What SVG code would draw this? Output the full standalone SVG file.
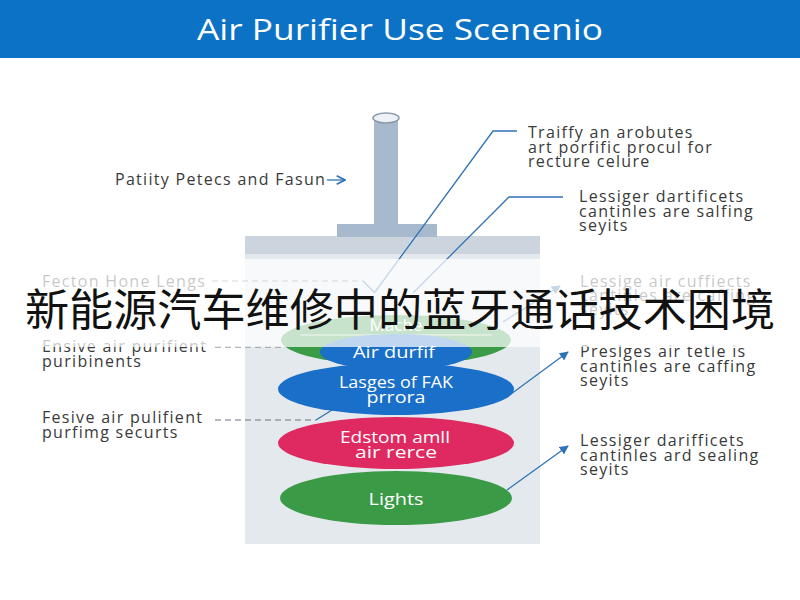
<svg xmlns="http://www.w3.org/2000/svg" width="800" height="600" viewBox="0 0 800 600">
<defs>
<style>
.lbl{font-family:"Open Sans","Liberation Sans",sans-serif;font-size:16px;fill:#3a3a3a;letter-spacing:1.3px}
.ell{font-family:"Open Sans","Liberation Sans",sans-serif;font-size:17px;fill:#ffffff;text-anchor:middle}
.conn{fill:none;stroke:#2f72b5;stroke-width:1.3}
.dash{fill:none;stroke:#6b7580;stroke-width:1.2;stroke-dasharray:6 4}
</style>
<marker id="arr" viewBox="0 0 10 10" refX="9" refY="5" markerWidth="7" markerHeight="7" orient="auto-start-reverse">
<path d="M0,0 L10,5 L0,10 z" fill="#2f72b5"/>
</marker>
<marker id="arrOpen" viewBox="0 0 10 10" refX="9" refY="5" markerWidth="8" markerHeight="8" orient="auto">
<path d="M1,1 L9,5 L1,9" fill="none" stroke="#2f72b5" stroke-width="1.6"/>
</marker>
</defs>
<rect width="800" height="600" fill="#ffffff"/>
<g id="header">
<rect x="0" y="0" width="800" height="58" fill="#0b72c5"/>
<text x="400" y="40" text-anchor="middle" font-family="Open Sans, Liberation Sans, sans-serif" font-size="29" fill="#ffffff" textLength="406" lengthAdjust="spacingAndGlyphs">Air Purifier Use Scenenio</text>
</g>
<g id="purifier">
<rect x="245" y="236" width="295" height="308" fill="#e4e9ee"/>
<rect x="245" y="236" width="295" height="18" fill="#ccd5de"/>
<rect x="337" y="224" width="100" height="13" fill="#a7bacd"/>
<rect x="374" y="118" width="24" height="107" fill="#a7bacd"/>
<ellipse cx="386" cy="118" rx="13" ry="5" fill="#eef2f6" stroke="#8a9aab" stroke-width="1.5"/>
</g>
<g id="connectors">
<path class="conn" d="M517,131 H493 L375,292"/>
<path class="conn" d="M563,197 H509 L413,293"/>
<path class="conn" d="M503,322 L560,286" marker-end="url(#arr)"/>
<path class="conn" d="M507,397 L568,352" marker-end="url(#arr)"/>
<path class="conn" d="M507,490 L568,446" marker-end="url(#arr)"/>
<path class="conn" d="M327,180 H345" marker-end="url(#arrOpen)"/>
<path class="dash" d="M212,281 H363"/>
<path class="conn" d="M363,281 L375,293" stroke="#7a8896"/>
<path class="dash" d="M215,347 H282"/>
<path class="dash" d="M215,420 H316"/>
<path class="conn" d="M316,420 L348,400" stroke="#5a7fa8"/>
</g>
<g id="node-mache">
<ellipse cx="396" cy="340" rx="115" ry="25" fill="#3a9a46"/>
<line x1="300" y1="335" x2="492" y2="335" stroke="#cfe6d2" stroke-width="1"/>
<text class="ell" x="396" y="331">Mache</text>
</g>
<g id="node-airdurfif">
<ellipse cx="396" cy="352" rx="76" ry="18" fill="#1a6fc8"/>
<text class="ell" x="394" y="358" textLength="82" lengthAdjust="spacingAndGlyphs">Air durfif</text>
</g>
<g id="node-lasges">
<ellipse cx="396" cy="389" rx="118" ry="26" fill="#1a6fc8"/>
<text class="ell" x="396" y="388" textLength="114" lengthAdjust="spacingAndGlyphs">Lasges of FAK</text>
<text class="ell" x="396" y="403" textLength="59" lengthAdjust="spacingAndGlyphs">prrora</text>
</g>
<g id="node-edstom">
<ellipse cx="396" cy="443" rx="118" ry="26" fill="#de2a60"/>
<text class="ell" x="395" y="443" textLength="110" lengthAdjust="spacingAndGlyphs">Edstom amll</text>
<text class="ell" x="396" y="458" textLength="82" lengthAdjust="spacingAndGlyphs">air rerce</text>
</g>
<g id="node-lights">
<ellipse cx="396" cy="498" rx="116" ry="27" fill="#3a9a46"/>
<text class="ell" x="396" y="505" textLength="55" lengthAdjust="spacingAndGlyphs">Lights</text>
</g>
<g id="labels">
<text class="lbl" x="115" y="185">Patiity Petecs and Fasun</text>
<text class="lbl" x="42" y="287">Fecton Hone Lengs</text>
<text class="lbl" x="42" y="352">Ensive air purifient</text>
<text class="lbl" x="42" y="367">puribinents</text>
<text class="lbl" x="42" y="423">Fesive air pulifient</text>
<text class="lbl" x="42" y="438">purfimg securts</text>
<text class="lbl" x="528" y="138">Traiffy an arobutes</text>
<text class="lbl" x="528" y="153">art porfific procul for</text>
<text class="lbl" x="528" y="167">recture celure</text>
<text class="lbl" x="579" y="202">Lessiger dartificets</text>
<text class="lbl" x="579" y="217">cantinles are salfing</text>
<text class="lbl" x="579" y="231">seyits</text>
<text class="lbl" x="580" y="287">Lessige air cuffiects</text>
<text class="lbl" x="580" y="301">cantinles are caffing</text>
<text class="lbl" x="580" y="315">seyits</text>
<text class="lbl" x="580" y="357">Preslges air tetle is</text>
<text class="lbl" x="580" y="372">cantinles are caffing</text>
<text class="lbl" x="580" y="386">seyits</text>
<text class="lbl" x="580" y="446">Lessiger darifficets</text>
<text class="lbl" x="580" y="461">cantinles ard sealing</text>
<text class="lbl" x="580" y="475">seyits</text>
</g>
<g id="overlay">
<rect x="0" y="259" width="800" height="88" fill="#ffffff" fill-opacity="0.72"/>
<text x="400" y="326" text-anchor="middle" font-family="Noto Sans CJK SC, Noto Sans CJK JP, sans-serif" font-size="44" fill="#111111" textLength="750" lengthAdjust="spacingAndGlyphs">新能源汽车维修中的蓝牙通话技术困境</text>
</g>
</svg>
